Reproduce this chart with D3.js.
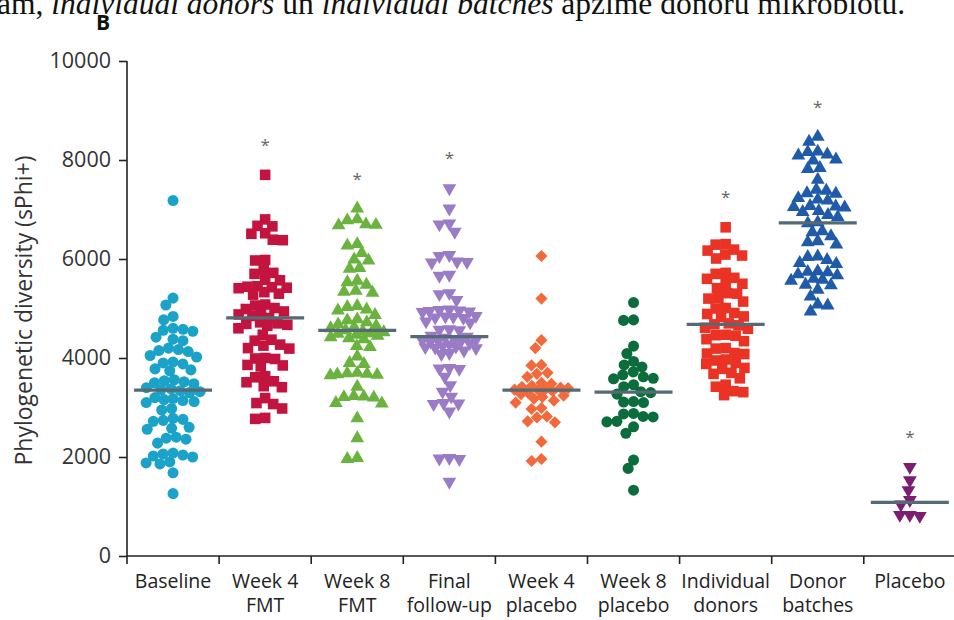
<!DOCTYPE html>
<html>
<head>
<meta charset="utf-8">
<script src="https://cdn.jsdelivr.net/npm/d3@7"></script>
<style>
  html, body { margin: 0; padding: 0; background: #fff; }
  svg { display: block; }
</style>
</head>
<body>
<svg id="chart" width="954" height="620"></svg>
<script>
// Groups along the x axis
const categories = ["Baseline", "Week 4 FMT", "Week 8 FMT", "Final follow-up", "Week 4 placebo",
  "Week 8 placebo", "Individual donors", "Donor batches", "Placebo"];
const categoryLines = [["Baseline"], ["Week 4", "FMT"], ["Week 8", "FMT"], ["Final", "follow-up"],
  ["Week 4", "placebo"], ["Week 8", "placebo"], ["Individual", "donors"], ["Donor", "batches"], ["Placebo"]];
const significant = [false, true, true, true, false, false, true, true, true];
const yTicks = [0, 2000, 4000, 6000, 8000, 10000];

// Phylogenetic diversity (sPhi+) per sample
const baseline = [7180, 5210, 5070, 4840, 4770, 4600, 4580, 4560, 4540, 4420, 4380, 4350,
  4200, 4170, 4150, 4130, 4050, 4020, 3920, 3900, 3880, 3780, 3760, 3740,
  3560, 3540, 3520, 3500, 3480, 3400, 3380, 3360, 3340, 3320, 3300,
  3200, 3180, 3160, 3140, 3120, 3100, 2980, 2950, 2780, 2760, 2740, 2720,
  2600, 2580, 2560, 2400, 2380, 2360, 2280, 2080, 2060, 2040, 2020, 2000,
  1900, 1880, 1860, 1680, 1260];
const week4Fmt = [7700, 6800, 6670, 6660, 6520, 6510, 6390, 6380, 5980, 5970, 5780, 5720, 5700,
  5580, 5570, 5450, 5440, 5430, 5420, 5410, 5330, 5300, 5280, 5080, 5060, 5010, 4990,
  4940, 4930, 4880, 4850, 4810, 4720, 4700, 4690, 4670, 4650, 4600, 4470, 4370, 4350,
  4270, 4250, 4200, 4190, 4000, 3990, 3980, 3860, 3850, 3830, 3630, 3610, 3530, 3510,
  3430, 3410, 3190, 3090, 3070, 2980, 2790, 2770];
const week8Fmt = [7020, 6800, 6780, 6700, 6690, 6680, 6300, 6270, 6120, 5990, 5970, 5820, 5800,
  5560, 5530, 5480, 5360, 5340, 5320, 5050, 5030, 4980, 4960, 4870, 4780, 4760,
  4720, 4680, 4650, 4620, 4600, 4560, 4540, 4520, 4500, 4490, 4470, 4450,
  4420, 4400, 4380, 4240, 4220, 4030, 3900, 3880, 3700, 3690, 3680, 3670, 3660, 3650,
  3420, 3230, 3220, 3210, 3200, 3090, 3080, 2780, 2380, 1980, 1960];
const finalFollowUp = [7430, 7020, 6720, 6700, 6550, 6080, 6060, 5950, 5940, 5930, 5680, 5660,
  5310, 5290, 5170, 4980, 4970, 4960, 4950, 4940, 4930, 4850, 4840, 4830, 4820, 4810,
  4740, 4720, 4580, 4570, 4560, 4450, 4430, 4410, 4380, 4370, 4360, 4350, 4340, 4330,
  4300, 4280, 4240, 4230, 4220, 4210, 4200, 4150, 4100, 4080, 3800, 3790, 3780, 3620,
  3450, 3320, 3220, 3090, 3080, 3070, 2920, 1980, 1970, 1960, 1500];
const week4Placebo = [6060, 5200, 4360, 4200, 3860, 3850, 3700, 3680, 3620, 3500, 3480,
  3440, 3420, 3400, 3390, 3370, 3360, 3350, 3330, 3300, 3270, 3240, 3210, 3180, 3140, 3100,
  2990, 2970, 2820, 2800, 2720, 2700, 2310, 1960, 1920];
const week8Placebo = [5120, 4770, 4760, 4240, 4090, 3930, 3860, 3820, 3720, 3660, 3620, 3590,
  3580, 3460, 3420, 3320, 3300, 3270, 3120, 3110, 3100, 2880, 2870, 2820, 2810, 2720,
  2710, 2610, 2480, 1940, 1770, 1330];
const individualDonors = [6640, 6300, 6290, 6190, 6170, 6090, 6070, 6010, 5720, 5700, 5620, 5600,
  5510, 5500, 5410, 5310, 5300, 5210, 5200, 5140, 5010, 5000, 4910, 4890, 4840, 4830,
  4700, 4680, 4660, 4610, 4590, 4470, 4460, 4450, 4380, 4340, 4200, 4190, 4100, 4090, 4080,
  3970, 3950, 3900, 3880, 3800, 3780, 3700, 3680, 3590, 3460, 3420, 3330, 3310, 3250];
const donorBatches = [8470, 8370, 8170, 8160, 8110, 8090, 8010, 7990, 7840, 7820, 7600,
  7400, 7380, 7330, 7320, 7230, 7200, 7180, 7070, 7060, 7050, 7040, 6970, 6950, 6890, 6850,
  6740, 6720, 6560, 6540, 6460, 6360, 6340, 6290, 6050, 6040, 5980, 5920, 5900, 5750, 5740,
  5730, 5690, 5670, 5600, 5580, 5560, 5480, 5470, 5380, 5240, 5080, 5060, 4940];
const placebo = [1800, 1530, 1330, 1130, 1040, 830, 810, 830];

const seriesValues = [baseline, week4Fmt, week8Fmt, finalFollowUp, week4Placebo,
  week8Placebo, individualDonors, donorBatches, placebo];
const colors = ["#1aa2c8", "#c2143f", "#6bb33f", "#9a7bc6", "#f26a3b", "#0a6d3b",
  "#ea3325", "#1f5ba8", "#7c1d72"];
const shapes = ["circle", "square", "up", "down", "diamond", "circle", "square", "up", "down"];

const svg = d3.select("#chart");
const margin = { left: 127, top: 61, bottom: 556 };
const bandW = 92.1;

const x = d3.scaleBand().domain(categories).range([margin.left, margin.left + bandW * categories.length]);
const y = d3.scaleLinear().domain([0, 10000]).range([margin.bottom, margin.top]);

const font = "'Open Sans', 'Noto Sans', sans-serif";

// heading text running along the top edge
const head = svg.append("text")
  .attr("x", -3).attr("y", 14)
  .attr("font-family", "'Liberation Serif', 'DejaVu Serif', serif")
  .attr("font-size", 31.5).attr("fill", "#111");
head.append("tspan").text("ām, ");
head.append("tspan").attr("font-style", "italic").text("individual donors");
head.append("tspan").text(" un ");
head.append("tspan").attr("font-style", "italic").text("individual batches");
head.append("tspan").text(" apzīmē donoru mikrobiotu.");

// panel letter
svg.append("text").attr("x", 96).attr("y", 30)
  .attr("font-family", font).attr("font-weight", 700).attr("font-size", 21)
  .attr("fill", "#111").text("B");

// y axis
const yAxis = svg.append("g")
  .attr("transform", `translate(${margin.left},0)`)
  .call(d3.axisLeft(y).tickValues(yTicks).tickSize(8).tickPadding(8).tickFormat(d3.format("d")));
yAxis.select(".domain").attr("stroke", "#222").attr("stroke-width", 1.6).attr("d", `M0,${y(10000)}V${y(0)}`);
yAxis.selectAll(".tick line").attr("stroke", "#222").attr("stroke-width", 1.6);
yAxis.selectAll(".tick text").attr("font-family", font).attr("font-size", 21.5).attr("fill", "#333");

svg.append("text")
  .attr("transform", `translate(32,${(y(0) + y(10000)) / 2 + 2}) rotate(-90)`)
  .attr("text-anchor", "middle")
  .attr("font-family", font).attr("font-size", 23).attr("fill", "#333")
  .text("Phylogenetic diversity (sPhi+)");

// x axis: baseline with ticks at the group boundaries
const xAxis = svg.append("g").attr("transform", `translate(0,${margin.bottom})`);
xAxis.append("line")
  .attr("x1", margin.left).attr("x2", 954)
  .attr("stroke", "#222").attr("stroke-width", 1.6);
xAxis.selectAll("line.tick").data(categories).join("line")
  .attr("class", "tick")
  .attr("x1", d => x(d)).attr("x2", d => x(d))
  .attr("y1", 0).attr("y2", 8)
  .attr("stroke", "#222").attr("stroke-width", 1.6);
const catLabels = xAxis.selectAll("text.cat").data(categories).join("text")
  .attr("class", "cat")
  .attr("text-anchor", "middle")
  .attr("font-family", font).attr("font-size", 19.5).attr("fill", "#222")
  .attr("transform", d => `translate(${x(d) + x.bandwidth() / 2},0)`);
catLabels.selectAll("tspan").data((d, i) => categoryLines[i]).join("tspan")
  .attr("x", 0).attr("y", (d, j) => 32 + j * 24).text(d => d);

// symbol generators
const symbolPath = {
  circle: d3.symbol().type(d3.symbolCircle).size(96)(),
  square: d3.symbol().type(d3.symbolSquare).size(112)(),
  up: d3.symbol().type(d3.symbolTriangle).size(82)(),
  down: d3.symbol().type(d3.symbolTriangle).size(82)(),
  diamond: d3.symbol().type(d3.symbolSquare).size(74)()
};
const symbolRotate = { circle: 0, square: 0, up: 0, down: 180, diamond: 45 };

// beeswarm: each point takes the free horizontal slot closest to the centre;
// where a column gets crowded the spacing shrinks so marks overlap instead of spreading out
function swarm(values, diameter, halfWidth) {
  const pts = values.map(v => ({ v, py: y(v) })).sort((a, b) => a.py - b.py);
  const placed = [];
  for (const p of pts) {
    let chosen = null;
    for (let d = diameter; d >= 3 && chosen === null; d -= 0.5) {
      const blocked = [];
      for (const q of placed) {
        const dy = Math.abs(q.py - p.py);
        if (dy < d) {
          const dx = Math.sqrt(d * d - dy * dy);
          blocked.push([q.dx - dx, q.dx + dx]);
        }
      }
      const cands = [0, ...blocked.flat()]
        .filter(c => Math.abs(c) <= halfWidth)
        .sort((a, b) => Math.abs(a) - Math.abs(b) || a - b);
      for (const c of cands) {
        if (blocked.every(([a, b]) => c <= a + 1e-6 || c >= b - 1e-6)) { chosen = c; break; }
      }
    }
    p.dx = chosen === null ? 0 : chosen;
    placed.push(p);
  }
  return pts;
}

const medianW = 78;
seriesValues.forEach((vals, i) => {
  const cx = x(categories[i]) + x.bandwidth() / 2;
  const g = svg.append("g").attr("class", "group");
  const pts = swarm(vals, 10, 27);
  g.selectAll("path").data(pts).join("path")
    .attr("d", symbolPath[shapes[i]])
    .attr("fill", colors[i])
    .attr("transform", d => `translate(${cx + d.dx},${d.py}) rotate(${symbolRotate[shapes[i]]})`);

  const med = d3.median(vals);
  g.append("line")
    .attr("x1", cx - medianW / 2).attr("x2", cx + medianW / 2)
    .attr("y1", y(med)).attr("y2", y(med))
    .attr("stroke", "#556a75").attr("stroke-width", 3.2);

  if (significant[i]) {
    g.append("text")
      .attr("x", cx).attr("y", y(d3.max(vals)) - 33 + 9)
      .attr("text-anchor", "middle")
      .attr("font-family", font).attr("font-size", 17).attr("fill", "#666")
      .text("*");
  }
});
</script>
</body>
</html>
